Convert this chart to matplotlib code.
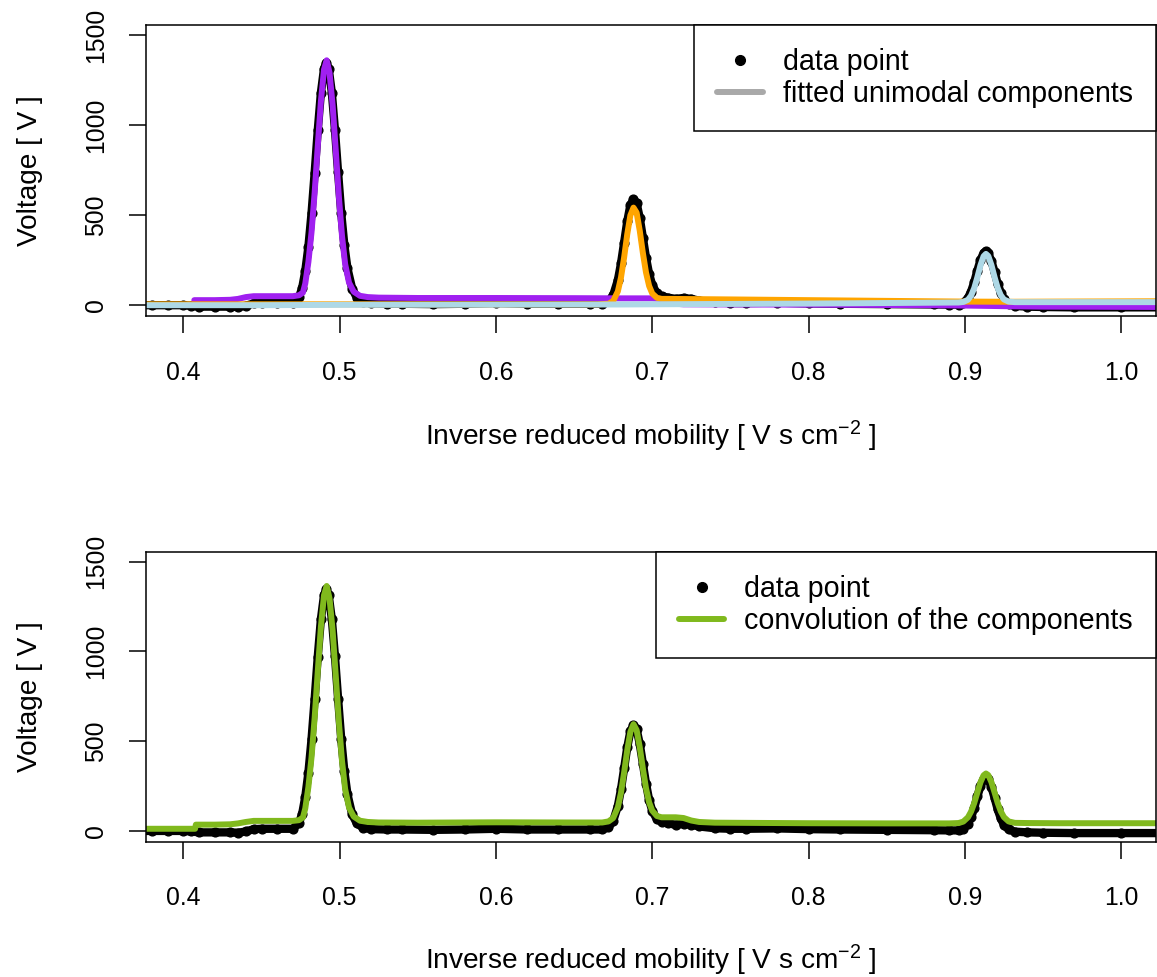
import matplotlib
matplotlib.use('Agg')
import matplotlib.pyplot as plt
from matplotlib.lines import Line2D

plt.rcParams['font.family'] = ['Liberation Sans', 'DejaVu Sans']
plt.rcParams['mathtext.fontset'] = 'custom'
plt.rcParams['mathtext.rm'] = 'Liberation Sans'
plt.rcParams['mathtext.it'] = 'Liberation Sans:italic'
plt.rcParams['mathtext.bf'] = 'Liberation Sans:bold'
plt.rcParams['mathtext.default'] = 'regular'

# measured spectrum (data points)
data_x = [0.370, 0.380, 0.390, 0.400, 0.405, 0.410, 0.420, 0.430, 0.435, 0.440, 0.445, 0.450, 0.460, 0.470,
          0.474, 0.476, 0.478, 0.480, 0.482, 0.484, 0.486, 0.488, 0.490, 0.4915, 0.493, 0.495, 0.497, 0.499,
          0.501, 0.503, 0.505, 0.508, 0.511, 0.515, 0.520,
          0.530, 0.540, 0.560, 0.580, 0.600, 0.620, 0.640, 0.660, 0.668,
          0.672, 0.675, 0.678, 0.680, 0.682, 0.684, 0.686, 0.688, 0.690, 0.692, 0.694, 0.696, 0.698, 0.700,
          0.703, 0.706, 0.710,
          0.715, 0.720, 0.725, 0.730, 0.740, 0.750, 0.760, 0.780, 0.800, 0.820, 0.850, 0.880, 0.890,
          0.896, 0.899, 0.902, 0.904, 0.906, 0.908, 0.910, 0.912, 0.9135, 0.915, 0.917, 0.919, 0.921, 0.923,
          0.925, 0.928, 0.932,
          0.940, 0.950, 0.970, 1.000, 1.030]
data_v = [0, 0, 0, 0, -3, -8, -8, -8, -10, -3, 10, 12, 12, 12,
          45, 95, 190, 325, 510, 735, 972, 1180, 1314, 1347, 1313, 1180, 973, 737,
          513, 334, 204, 92, 42, 18, 10,
          8, 8, 6, 8, 12, 8, 8, 8, 8,
          21, 55, 139, 232, 348, 465, 556, 588, 566, 485, 375, 264, 173, 112,
          65, 50, 42,
          35, 40, 35, 25, 15, 12, 12, 14, 10, 8, 6, 4, 3,
          3, 12, 40, 76, 128, 192, 250, 290, 300, 288, 245, 185, 120, 70,
          33, 8, -4,
          -8, -10, -12, -12, -12]

# fitted unimodal components
purple_x = [0.407, 0.420, 0.430, 0.435, 0.440, 0.445, 0.460, 0.470,
            0.474, 0.4765, 0.478, 0.480, 0.482, 0.484, 0.486, 0.488, 0.490, 0.4917, 0.4935, 0.4955, 0.4975,
            0.4995, 0.5015, 0.5035, 0.506, 0.509, 0.513, 0.518, 0.525,
            0.550, 0.600, 0.650, 0.680, 0.700, 0.705, 0.710, 0.715, 0.720, 0.800, 0.880, 0.900, 0.930, 0.950, 1.030]
purple_v = [28, 28, 30, 35, 45, 50, 50, 50,
            55, 70, 120, 240, 405, 625, 884, 1133, 1309, 1360, 1292, 1112, 861,
            603, 385, 229, 125, 75, 52, 45, 42,
            40, 40, 39, 38, 38, 35, 20, 8, 5, 3, 0, -2, -6, -8, -10]

orange_x = [0.370, 0.500, 0.600, 0.665,
            0.672, 0.675, 0.678, 0.680, 0.682, 0.684, 0.686, 0.688, 0.690, 0.692, 0.694, 0.696, 0.698, 0.700,
            0.703, 0.706, 0.710,
            0.750, 0.800, 0.850, 0.900, 0.930, 0.960, 1.030]
orange_v = [5, 5, 5, 5,
            8, 23, 77, 154, 265, 394, 499, 542, 514, 414, 290, 182, 107, 65,
            41, 35, 35,
            32, 28, 24, 20, 19, 20, 22]

lightblue_x = [0.370, 0.450, 0.500, 0.600, 0.680, 0.700, 0.800, 0.880,
               0.896, 0.899, 0.902, 0.904, 0.906, 0.908, 0.910, 0.912, 0.9135, 0.915, 0.917, 0.919, 0.921,
               0.923, 0.925, 0.928, 0.932,
               0.960, 1.030]
lightblue_v = [0, 0, 2, 3, 4, 5, 9, 14,
               15, 18, 30, 53, 95, 155, 222, 272, 285, 273, 223, 156, 96,
               55, 32, 20, 17,
               17, 17]

# convolution of the components
green_x = [0.370, 0.4075, 0.408, 0.420, 0.430, 0.435, 0.440, 0.445, 0.460, 0.470,
           0.474, 0.4765, 0.478, 0.480, 0.482, 0.484, 0.486, 0.488, 0.490, 0.4917, 0.4935, 0.4955, 0.4975,
           0.4995, 0.5015, 0.5035, 0.506, 0.509, 0.513, 0.518, 0.525,
           0.550, 0.600, 0.650, 0.668,
           0.672, 0.675, 0.678, 0.680, 0.682, 0.684, 0.686, 0.688, 0.690, 0.692, 0.694, 0.696, 0.698, 0.700,
           0.703, 0.706, 0.710,
           0.715, 0.720, 0.725, 0.730, 0.740, 0.760, 0.800, 0.850, 0.890,
           0.896, 0.899, 0.902, 0.904, 0.906, 0.908, 0.910, 0.912, 0.9135, 0.915, 0.917, 0.919, 0.921,
           0.923, 0.925, 0.928, 0.932,
           0.940, 0.960, 1.030]
green_v = [12, 12, 35, 35, 37, 42, 50, 56, 56, 56,
           60, 75, 125, 245, 410, 630, 889, 1138, 1314, 1365, 1297, 1117, 866,
           608, 390, 234, 130, 80, 57, 50, 47,
           46, 48, 47, 47,
           53, 72, 132, 213, 326, 450, 552, 595, 562, 467, 348, 238, 159, 113,
           83, 76, 76,
           76, 72, 58, 50, 46, 45, 43, 42, 42,
           44, 52, 76, 108, 155, 214, 271, 310, 320, 311, 272, 215, 156,
           109, 77, 53, 45,
           44, 43, 43]

xticks = [0.4, 0.5, 0.6, 0.7, 0.8, 0.9, 1.0]
xtick_labels = ['0.4', '0.5', '0.6', '0.7', '0.8', '0.9', '1.0']
yticks = [0, 500, 1000, 1500]
ytick_labels = ['0', '500', '1000', '1500']

xlabel = r'Inverse reduced mobility [ V s cm$^{-2}$ ]'


def style(ax, xlabel_y):
    ax.set_xlim(0.3761, 1.0223)
    ax.set_ylim(-60, 1556)
    ax.set_xticks(xticks)
    ax.set_xticklabels(xtick_labels)
    ax.set_yticks(yticks)
    ax.set_yticklabels(ytick_labels, rotation=90, va='center')
    ax.tick_params(length=12.2, width=1.1, labelsize=17.8, color='black')
    ax.tick_params(axis='x', pad=20)
    ax.tick_params(axis='y', pad=15)
    for s in ax.spines.values():
        s.set_linewidth(1.1)
    ax.set_xlabel(xlabel, fontsize=20.2)
    ax.xaxis.set_label_coords(0.5, xlabel_y)
    ax.set_ylabel('Voltage [ V ]', fontsize=20.2)
    ax.yaxis.set_label_coords(-0.102, 0.5)


fig = plt.figure(figsize=(11.57, 9.77), dpi=100)
ax1 = fig.add_axes([146/1157, 1-316/977, 1010/1157, 291/977])
ax2 = fig.add_axes([146/1157, 1-841.7/977, 1010/1157, 290/977])

line_kw = dict(lw=4.3, solid_capstyle='round', solid_joinstyle='round')
dot_kw = dict(color='black', lw=6.0, marker='o', ms=6.3, solid_capstyle='round', solid_joinstyle='round')
leg_kw = dict(loc='upper right', bbox_to_anchor=(1, 1), borderaxespad=0, fontsize=20.6, fancybox=False,
              edgecolor='black', framealpha=1, handlelength=1.6, handletextpad=0.7, labelspacing=0.15,
              borderpad=0.8)

# top: data with the fitted components
ax1.plot(data_x, data_v, **dot_kw)
ax1.plot(purple_x, purple_v, color='#A020F0', **line_kw)
ax1.plot(orange_x, orange_v, color='#FFA500', **line_kw)
ax1.plot(lightblue_x, lightblue_v, color='#ADD8E6', **line_kw)
style(ax1, -0.354)

h_dot = Line2D([], [], ls='none', marker='o', color='black', ms=7)
h_gray = Line2D([], [], color='#A9A9A9', lw=4.3, solid_capstyle='round')
leg = ax1.legend([h_dot, h_gray], ['data point', 'fitted unimodal components'], **leg_kw)
leg.get_frame().set_linewidth(1.1)

# bottom: data with the convolution
ax2.plot(data_x, data_v, **dot_kw)
ax2.plot(green_x, green_v, color='#80B91D', **line_kw)
style(ax2, -0.349)

h_green = Line2D([], [], color='#80B91D', lw=4.3, solid_capstyle='round')
leg2 = ax2.legend([h_dot, h_green], ['data point', 'convolution of the components'], **leg_kw)
leg2.get_frame().set_linewidth(1.1)

fig.savefig('out.png', dpi=100)
